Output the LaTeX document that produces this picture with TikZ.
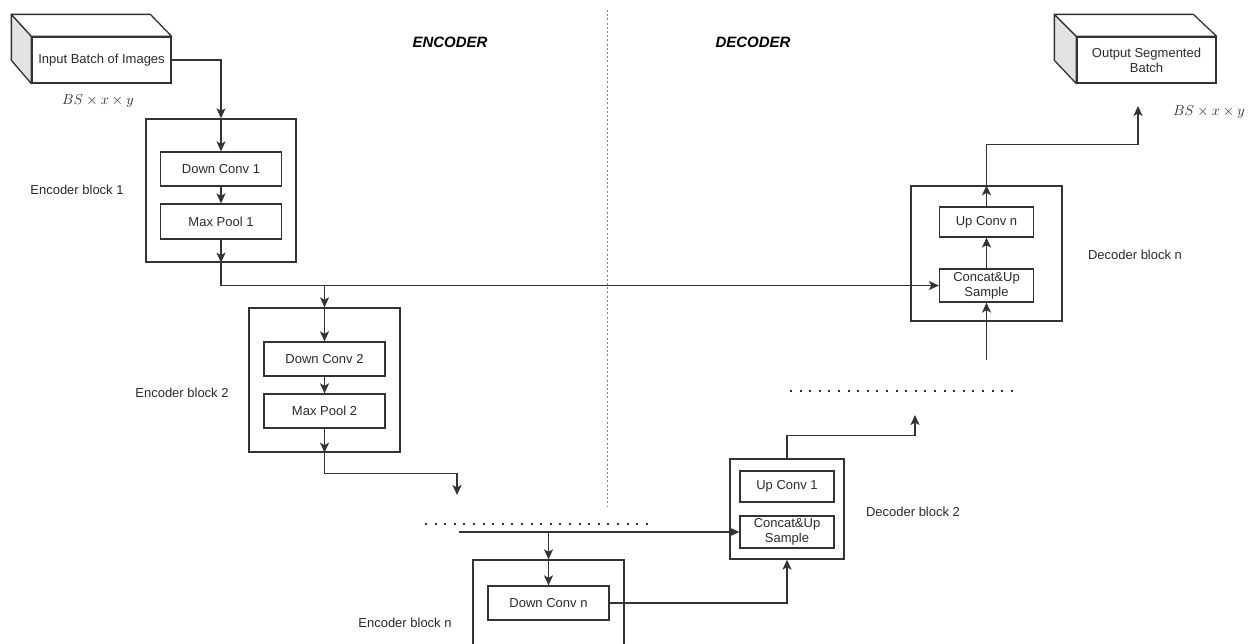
\documentclass[tikz,border=0pt]{standalone}
\usepackage{fontspec}
\setmainfont{Liberation Sans}
\usetikzlibrary{arrows.meta}
\definecolor{lncol}{HTML}{333333}
\definecolor{txcol}{HTML}{2B2B2B}
\definecolor{sidecol}{HTML}{E3E3E3}
\begin{document}
\begin{tikzpicture}[x=1pt,y=-1pt,
  every node/.style={text=txcol,font=\fontsize{13}{15}\selectfont},
  box/.style={draw=lncol,line width=1.3pt,rectangle,inner sep=0pt,align=center},
  arr/.style={draw=lncol,line width=1.3pt,-{Stealth[length=10pt,width=9pt,inset=2.5pt]}},
  wire/.style={draw=lncol,line width=1.3pt},
  dotline/.style={draw=black!80,line width=2pt,dash pattern=on 2pt off 7.6pt},
  sep/.style={draw=gray,line width=1pt,dash pattern=on 2pt off 2.2pt},
  head/.style={font=\fontsize{15}{17}\selectfont\bfseries\itshape,text=black},
  dim/.style={font=\fontsize{15.5}{17}\selectfont,text=black!85}]
\useasboundingbox (0,0) rectangle (1256,643);
\clip (0,0) rectangle (1256,643);
\fill[white] (0,0) rectangle (1256,643);

% headings and separator
\node[head] (enc) at (450,42) {ENCODER};
\node[head] (dec) at (753,42) {DECODER};
\coordinate (v1) at (607,10);
\coordinate (v2) at (607,507);
\draw[sep] (v1) -- (v2);

% input cuboid
\node[box,minimum width=139pt,minimum height=46pt] (in) at (101.5,60) {Input Batch of Images};
\filldraw[fill=sidecol,draw=lncol,line width=1.3pt,line join=round] (in.north west) -- ++(-20,-22) -- ++(0,46) -- (in.south west) -- cycle;
\filldraw[fill=white,draw=lncol,line width=1.3pt,line join=round] (in.north west) -- ++(-20,-22) -- ++(139,0) -- (in.north east) -- cycle;
\node[dim] (bs1) at (98,101) {$BS\times x\times y$};

% output cuboid
\node[box,minimum width=139pt,minimum height=46pt] (out) at (1146.5,60) {Output Segmented\\Batch};
\filldraw[fill=sidecol,draw=lncol,line width=1.3pt,line join=round] (out.north west) -- ++(-22,-22) -- ++(0,46) -- (out.south west) -- cycle;
\filldraw[fill=white,draw=lncol,line width=1.3pt,line join=round] (out.north west) -- ++(-22,-22) -- ++(139,0) -- (out.north east) -- cycle;
\node[dim] (bs2) at (1209,112) {$BS\times x\times y$};

% encoder block 1
\node[box,minimum width=150pt,minimum height=143pt] (enc1) at (221,190.5) {};
\node[box,minimum width=121pt,minimum height=34pt] (dc1) at (221,169) {Down Conv 1};
\node[box,minimum width=121pt,minimum height=35pt] (mp1) at (221,221.5) {Max Pool 1};
\node (l1) at (77,190) {Encoder block 1};

% encoder block 2
\node[box,minimum width=151pt,minimum height=144pt] (enc2) at (324.5,380) {};
\node[box,minimum width=121pt,minimum height=34pt] (dc2) at (324.5,359) {Down Conv 2};
\node[box,minimum width=121pt,minimum height=34pt] (mp2) at (324.5,411) {Max Pool 2};
\node (l2) at (182,393) {Encoder block 2};

% encoder block n
\node[box,minimum width=151pt,minimum height=140pt] (encn) at (548.5,630) {};
\node[box,minimum width=121pt,minimum height=34pt] (dcn) at (548.5,603) {Down Conv n};
\node (ln) at (405,623) {Encoder block n};

% decoder block 2
\node[box,minimum width=114pt,minimum height=100pt] (dec2) at (787,509) {};
\node[box,minimum width=94pt,minimum height=31pt] (up1) at (787,486.5) {Up Conv 1};
\node[box,minimum width=94pt,minimum height=32pt] (cc2) at (787,532) {Concat\&Up\\Sample};
\node (ld2) at (913,512) {Decoder block 2};

% decoder block n
\node[box,minimum width=151pt,minimum height=135pt] (decn) at (986.5,253.5) {};
\node[box,minimum width=94pt,minimum height=30pt] (upn) at (986.5,222) {Up Conv n};
\node[box,minimum width=94pt,minimum height=33pt] (ccn) at (986.5,285.5) {Concat\&Up\\Sample};
\node (ldn) at (1135,255) {Decoder block n};

% dotted continuation lines
\coordinate (d1) at (425,524);
\coordinate (d2) at (655,524);
\draw[dotline] (d1) -- (d2);
\coordinate (d3) at (790,391);
\coordinate (d4) at (1020,391);
\draw[dotline] (d3) -- (d4);

% connectors
\draw[arr] (in.east) -| (enc1.north);
\draw[arr] (enc1.north) -- (dc1.north);
\draw[arr] (dc1.south) -- (mp1.north);
\draw[arr] (mp1.south) -- (enc1.south);
\draw[arr] (enc1.south) |- (ccn.west);
\draw[arr] (enc2.north |- ccn.west) -- (enc2.north);
\draw[arr] (enc2.north) -- (dc2.north);
\draw[arr] (dc2.south) -- (mp2.north);
\draw[arr] (mp2.south) -- (enc2.south);
\coordinate (c1) at (457,495);
\draw[arr] (enc2.south) -- ++(0,21) -| (c1);

\coordinate (s1) at (459,532);
\draw[arr] (s1) -- (cc2.west);
\draw[arr] (encn.north |- s1) -- (encn.north);
\draw[arr] (encn.north) -- (dcn.north);
\draw[arr] (dcn.east) -| (dec2.south);

\coordinate (c2) at (915,415);
\draw[arr] (dec2.north) -- ++(0,-23) -| (c2);

\coordinate (c3) at (986.5,360);
\draw[arr] (c3) -- (ccn.south);
\draw[arr] (ccn.north) -- (upn.south);
\draw[arr] (upn.north) -- (decn.north);
\coordinate (c4) at (1138,106);
\draw[arr] (decn.north) -- ++(0,-41) -| (c4);
\end{tikzpicture}
\end{document}
